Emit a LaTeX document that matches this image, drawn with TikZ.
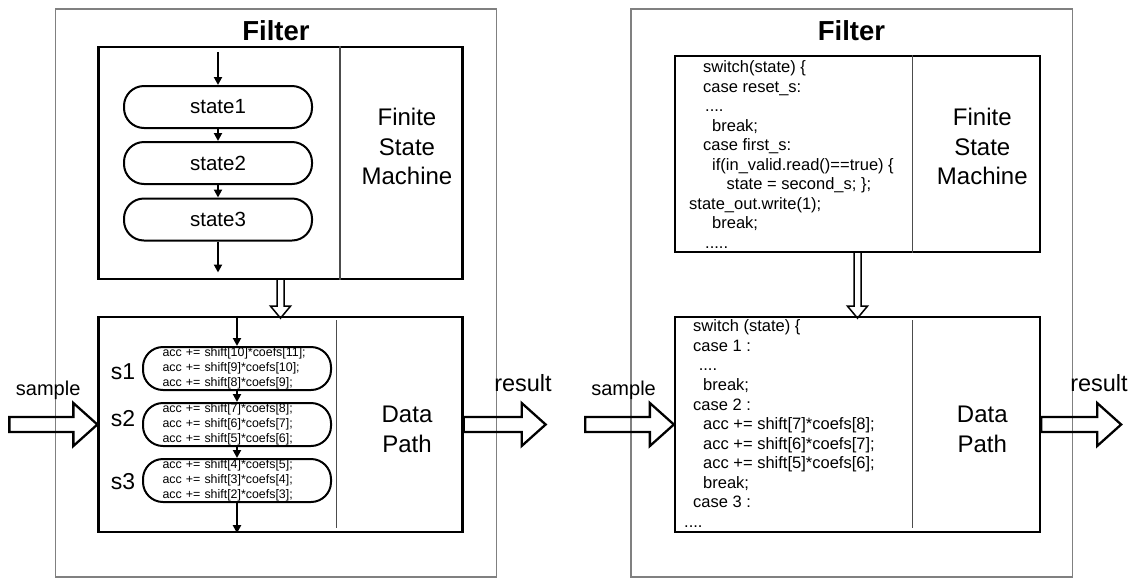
\documentclass[tikz,border=0pt]{standalone}
\usepackage{fontspec}
\setmainfont{Liberation Sans}
\usetikzlibrary{arrows.meta}
\newcommand{\fsz}[2]{\fontsize{#1}{#2}\selectfont}

\begin{document}
\begin{tikzpicture}[x=1pt,y=-1pt,
    frame/.style={draw=gray,line width=1.2pt,inner sep=0pt},
    title/.style={font=\bfseries\fsz{27.5}{30}},
    part/.style={draw,line width=2.3pt,inner sep=0pt},
    divider/.style={draw=gray!60!black,line width=1.2pt},
    big/.style={align=center,font=\fsz{24}{29.5}},
    state/.style={draw,line width=2pt,rounded corners=20pt,minimum width=188pt,
      minimum height=42pt,inner sep=0pt,font=\fsz{20.5}{24}},
    stage/.style={state,minimum height=43pt,text width=149pt,inner xsep=19.5pt,
      align=left,font=\fsz{12.4}{15}},
    tag/.style={anchor=base,font=\fsz{23}{26}},
    code/.style={anchor=north west,align=left,inner sep=0pt,font=\fsz{16.5}{19.5}},
    flow/.style={line width=2pt,-{Triangle[length=8pt,width=8pt]}},
    fatarrow/.pic={\draw[line width=2.3pt,line join=miter]
      (0,-7.5) -- (#1-24,-7.5) -- (#1-24,-21.5) -- (#1,0) -- (#1-24,21.5)
      -- (#1-24,7.5) -- (0,7.5) -- cycle;},
    slimarrow/.pic={\draw[line width=1.5pt,line join=miter]
      (-3.5,0) -- (-3.5,#1-12) -- (-10,#1-12) -- (0,#1) -- (10,#1-12)
      -- (3.5,#1-12) -- (3.5,0);}]
  \useasboundingbox (0,0) rectangle (1138,579);

  % left: filter with state chart
  \node[frame,minimum width=441pt,minimum height=568pt] (boxL) at (276,293) {};
  \node[title] (titleL) at (276,30.7) {Filter};
  \node[part,minimum width=364pt,minimum height=232pt] (fsmL) at (280.5,163) {};
  \node[part,minimum width=364pt,minimum height=215pt] (dpL) at (280.5,424.5) {};
  \draw[divider] (340,0 |- fsmL.north) -- (340,0 |- fsmL.south);
  \draw[divider] (336.8,320) -- (336.8,528);
  \node[big] (fsmtxtL) at (407,146.9) {Finite\\State\\Machine};
  \node[big,font=\fsz{24}{30}] (dptxtL) at (407,429.7) {Data\\Path};

  \node[state] (st1) at (218,107) {state1};
  \node[state] (st2) at (218,163) {state2};
  \node[state] (st3) at (218,219.5) {state3};
  \draw[flow] (st1.north |- fsmL.north) ++(0,6) -- (st1);
  \draw[flow] (st1) -- (st2);
  \draw[flow] (st2) -- (st3);
  \draw[flow] (st3.south) -- ++(0,31);

  \node[stage] (s1) at (237,368.5) {acc += shift[10]*coefs[11];\\acc += shift[9]*coefs[10];\\acc += shift[8]*coefs[9];};
  \node[stage] (s2) at (237,424.5) {acc += shift[7]*coefs[8];\\acc += shift[6]*coefs[7];\\acc += shift[5]*coefs[6];};
  \node[stage] (s3) at (237,480.5) {acc += shift[4]*coefs[5];\\acc += shift[3]*coefs[4];\\acc += shift[2]*coefs[3];};
  \node[tag] (tag1) at (123,379.3) {s1};
  \node[tag] (tag2) at (123,426) {s2};
  \node[tag] (tag3) at (123,489.3) {s3};
  \draw[flow] (s1.north |- dpL.north) -- (s1);
  \draw[flow] (s1) -- (s2);
  \draw[flow] (s2) -- (s3);
  \draw[flow] (s3) -- (s3.south |- dpL.south);

  \pic at (fsmL.south) {slimarrow=38};
  \node[anchor=base,font=\fsz{20}{24}] (inL) at (48.2,395) {sample};
  \node[anchor=base,font=\fsz{23.5}{26}] (outL) at (523,391.7) {result};
  \pic at ([xshift=-88pt]dpL.west) {fatarrow=88};
  \pic at (dpL.east) {fatarrow=82};

  % right: filter with code
  \node[frame,minimum width=441.5pt,minimum height=568pt] (boxR) at (851.75,293) {};
  \node[title] (titleR) at (851.5,30.7) {Filter};
  \node[part,minimum width=365pt,minimum height=196pt] (fsmR) at (857.5,154) {};
  \node[part,minimum width=365pt,minimum height=215pt] (dpR) at (857.5,424.5) {};
  \draw[divider] (912.4,0 |- fsmR.north) -- (912.4,0 |- fsmR.south);
  \draw[divider] (912.4,320) -- (912.4,528);
  \node[big] (fsmtxtR) at (982.3,146.9) {Finite\\State\\Machine};
  \node[big,font=\fsz{24}{30}] (dptxtR) at (982.3,429.7) {Data\\Path};

  \node[code] (fsmcode) at (689,60.7) {%
    \hspace*{14pt}switch(state) \{\\
    \hspace*{14pt}case reset\_s:\\
    \hspace*{16pt}....\\
    \hspace*{23pt}break;\\
    \hspace*{14pt}case first\_s:\\
    \hspace*{23pt}if(in\_valid.read()==true) \{\\
    \hspace*{37.5pt}state = second\_s; \};\\
    state\_out.write(1);\\
    \hspace*{23pt}break;\\
    \hspace*{16pt}.....};
  \node[code,font=\fsz{16.5}{19.56}] (dpcode) at (684,319.7) {%
    \hspace*{9pt}switch (state) \{\\
    \hspace*{9pt}case 1 :\\
    \hspace*{14.6pt}....\\
    \hspace*{19pt}break;\\
    \hspace*{9pt}case 2 :\\
    \hspace*{19pt}acc += shift[7]*coefs[8];\\
    \hspace*{19pt}acc += shift[6]*coefs[7];\\
    \hspace*{19pt}acc += shift[5]*coefs[6];\\
    \hspace*{19pt}break;\\
    \hspace*{9pt}case 3 :\\
    ....};

  \pic at (fsmR.south) {slimarrow=65};
  \node[anchor=base,font=\fsz{20}{24}] (inR) at (623.6,395) {sample};
  \node[anchor=base,font=\fsz{23.5}{26}] (outR) at (1099,391.7) {result};
  \pic at ([xshift=-88.7pt]dpR.west) {fatarrow=88.7};
  \pic at (dpR.east) {fatarrow=80};
\end{tikzpicture}
\end{document}
